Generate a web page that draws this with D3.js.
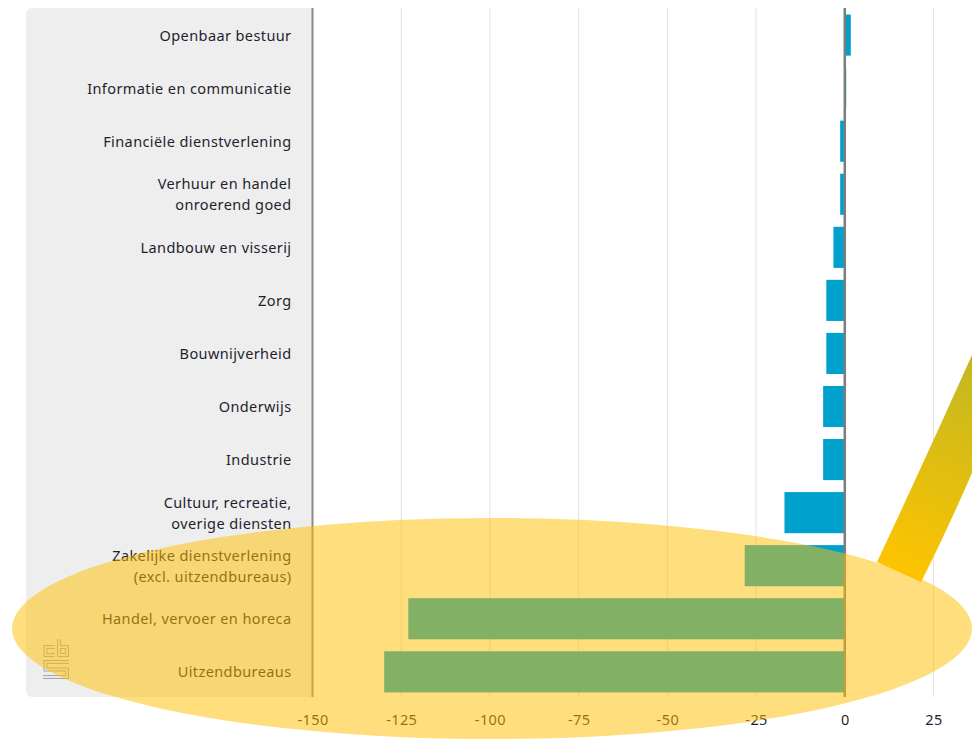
<!DOCTYPE html>
<html><head><meta charset="utf-8">
<script src="https://cdn.jsdelivr.net/npm/d3@7"></script>
<style>html,body{margin:0;padding:0;background:#fff;overflow:hidden}svg{display:block}text{font-family:"Noto Sans",sans-serif;letter-spacing:.4px}</style>
</head><body><svg id="c" width="972" height="739"></svg>
<script>
const categories=[["Openbaar bestuur"],["Informatie en communicatie"],["Financiële dienstverlening"],["Verhuur en handel","onroerend goed"],["Landbouw en visserij"],["Zorg"],["Bouwnijverheid"],["Onderwijs"],["Industrie"],["Cultuur, recreatie,","overige diensten"],["Zakelijke dienstverlening","(excl. uitzendbureaus)"],["Handel, vervoer en horeca"],["Uitzendbureaus"]];
const values=[1.7,0.4,-1.3,-1.3,-3.2,-5.2,-5.2,-6.1,-6.1,-17,-28.2,-123,-129.8];
const ticks=[-150,-125,-100,-75,-50,-25,0,25];
const svg=d3.select("#c");
const x=d3.scaleLinear().domain([-150,25]).range([312.5,933.5]);
const y=d3.scaleBand().domain(categories.map((d,i)=>i)).range([8.7,698.2]).paddingInner(0.225).paddingOuter(0.11);
const plotTop=8,plotBot=697;
const defs=svg.append("defs");
const g=defs.append("linearGradient").attr("id","beam").attr("gradientUnits","userSpaceOnUse").attr("x1",895).attr("y1",575).attr("x2",985).attr("y2",370);
g.append("stop").attr("offset",0).attr("stop-color","#ffc400");
g.append("stop").attr("offset",1).attr("stop-color","#c4b820");
svg.append("path").attr("d",`M26 14a6 6 0 0 1 6-6H${x(-150)}V${plotBot}H32a6 6 0 0 1-6-6Z`).attr("fill","#eeeeee");
svg.append("g").selectAll("line").data(ticks.filter(t=>t!==0&&t!==-150)).join("line")
 .attr("x1",d=>x(d)).attr("x2",d=>x(d)).attr("y1",plotTop).attr("y2",plotBot).attr("stroke","#e2e2e2").attr("stroke-width",1);
svg.append("g").selectAll("rect").data(values).join("rect")
 .attr("x",d=>x(Math.min(0,d))).attr("width",d=>Math.abs(x(d)-x(0)))
 .attr("y",(d,i)=>y(i)).attr("height",y.bandwidth()).attr("fill","#00a1cd");
svg.append("line").attr("x1",x(-150)).attr("x2",x(-150)).attr("y1",plotTop).attr("y2",plotBot).attr("stroke","#8a8a8a").attr("stroke-width",2);
svg.append("line").attr("x1",x(0)).attr("x2",x(0)).attr("y1",plotTop).attr("y2",plotBot).attr("stroke","#7d7d7d").attr("stroke-width",2.5);
const lab=svg.append("g").selectAll("text").data(categories).join("text")
 .attr("text-anchor","end").attr("font-size",14.5).attr("fill","#1f1f2e");
lab.each(function(d,i){
 const t=d3.select(this),c=y(i)+y.bandwidth()/2;
 d.forEach((s,j)=>t.append("tspan").attr("x",291.5).attr("y",c+5.5+(j-(d.length-1)/2)*21).text(s));
});
const xa=svg.append("g").attr("transform",`translate(0,${plotBot})`).call(d3.axisBottom(x).tickValues(ticks).tickSize(0).tickPadding(18).tickFormat(d=>String(d)));
xa.select(".domain").remove();
xa.selectAll("text").attr("font-size",14.5).attr("fill","#1f1f2e").attr("font-family",'"Noto Sans",sans-serif');
const logoPaths=["M55 647H45.5V655H55","M59 639V655H67V647H59","M69 662H45.5V669.5H67V677H43"];
const L=svg.append("g").attr("fill","none");
L.selectAll("path.o").data(logoPaths).join("path").attr("class","o").attr("d",d=>d).attr("stroke","#a8a8a8").attr("stroke-width",4);
L.selectAll("path.i").data(logoPaths).join("path").attr("class","i").attr("d",d=>d).attr("stroke","#e8e8e8").attr("stroke-width",2);
svg.append("path").attr("d","M877 562L921 582Q945 535 972 473V355Q925 460 877 562Z").attr("fill","url(#beam)");
svg.append("ellipse").attr("cx",492).attr("cy",628.5).attr("rx",480).attr("ry",110.5).attr("fill","#ffbe00").attr("fill-opacity",0.51);
</script></body></html>
